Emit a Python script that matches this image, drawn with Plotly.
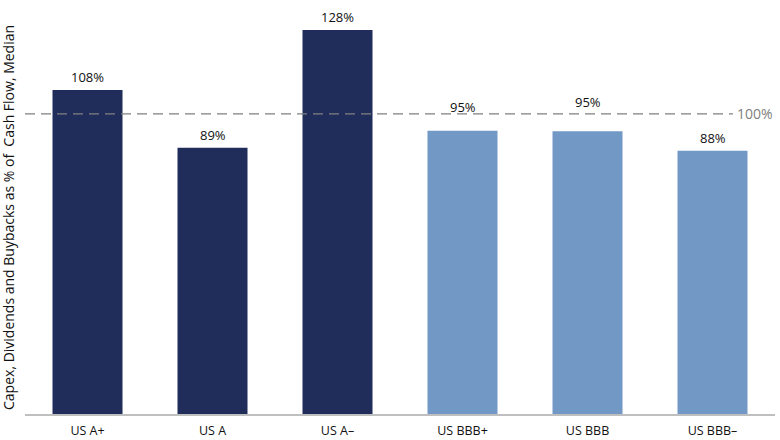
import plotly.graph_objects as go

categories = ["US A+", "US A", "US A\u2013", "US BBB+", "US BBB", "US BBB\u2013"]
values = [108, 88.7, 128, 94.4, 94.2, 87.7]
labels = ["108%", "89%", "128%", "95%", "95%", "88%"]
bar_colors = ["#202D5B", "#202D5B", "#202D5B", "#7298C6", "#7298C6", "#7298C6"]
reference_level = 100
y_title = "Capex, Dividends and Buybacks as % of  Cash Flow, Median"

FONT = "Open Sans, Noto Sans, sans-serif"
# labels that sit near the 100% line are lifted above it, like the original
label_lift = {"US BBB+": 11, "US BBB": 16}

fig = go.Figure()
fig.add_trace(go.Bar(
    x=categories, y=values,
    marker=dict(color=bar_colors, line=dict(width=0)),
    width=0.56,
))

# value labels above the bars
for cat, val, lab in zip(categories, values, labels):
    fig.add_annotation(
        x=cat, y=val, text=lab, showarrow=False,
        yanchor="bottom", yshift=2 + label_lift.get(cat, 0),
        font=dict(family=FONT, size=13, color="#111111"),
    )

# 100% reference line
fig.add_shape(
    type="line", xref="paper", yref="y",
    x0=0, x1=0.944, y0=reference_level, y1=reference_level,
    line=dict(color="#808080", width=1.2, dash="10px,6px"),
)
fig.add_annotation(
    xref="paper", yref="y", x=1.0, y=reference_level,
    text="100%", showarrow=False, xanchor="right",
    font=dict(family=FONT, size=14, color="#808080"),
)

# y-axis title as a rotated annotation so it can sit close to the page edge
fig.add_annotation(
    xref="paper", yref="paper", x=-0.0227, y=0.5,
    text=y_title, textangle=-90, showarrow=False,
    xanchor="center", yanchor="middle",
    font=dict(family=FONT, size=14, color="#111111"),
)

fig.update_layout(
    width=780, height=440,
    margin=dict(l=25, r=5, t=20, b=26),
    plot_bgcolor="white", paper_bgcolor="white",
    showlegend=False,
)
fig.update_xaxes(
    showline=True, linecolor="#BFBFBF", linewidth=1.5,
    ticks="", ticklabelstandoff=4, automargin=False,
    tickfont=dict(family=FONT, size=12.5, color="#111111"),
)
fig.update_yaxes(
    range=[0, 131.3], showgrid=False, showticklabels=False, zeroline=False,
    automargin=False,
)

# drop the default body margin so the figure sits at the page corner
fig.write_html(
    "out.html",
    config={"displayModeBar": False},
    post_script="document.body.style.margin='0';",
)
